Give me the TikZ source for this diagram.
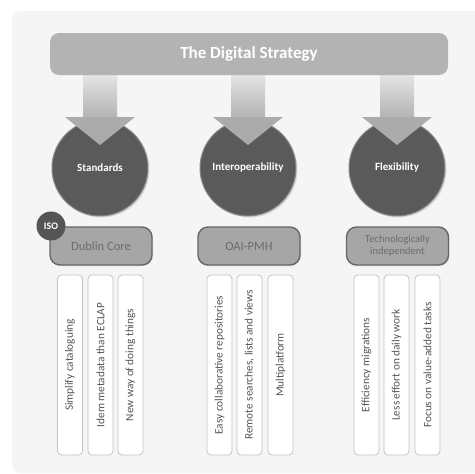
\documentclass[tikz,border=0pt]{standalone}
\usepackage{fontspec}
\setmainfont{Carlito}
\usetikzlibrary{shadows}
\definecolor{panel}{HTML}{F5F5F5}
\definecolor{bar}{HTML}{B3B3B3}
\definecolor{disc}{HTML}{5A5A5A}
\definecolor{boxfill}{HTML}{A6A6A6}
\definecolor{boxline}{HTML}{666666}
\definecolor{boxtext}{HTML}{6C6C6C}
\definecolor{itemline}{HTML}{C4C4C4}
\definecolor{itemtext}{HTML}{555555}
\definecolor{arrowhead}{HTML}{ABABAB}
\tikzset{
  titlebar/.style={fill=bar, rounded corners=9pt, minimum width=398pt, minimum height=42pt, text=white, font=\fontsize{17}{19}\selectfont\bfseries, inner sep=0pt},
  pillar/.style={circle, fill=disc, draw=disc!70!white, line width=1pt, minimum size=96pt, inner sep=0pt, text=white, font=\fontsize{11}{13}\selectfont\bfseries, drop shadow={opacity=0.25, shadow xshift=1.5pt, shadow yshift=-1.5pt}},
  stdbox/.style={rounded corners=10pt, fill=boxfill, draw=boxline, line width=1.4pt, minimum width=102pt, minimum height=38pt, text=boxtext, inner sep=0pt, align=center, drop shadow={opacity=0.2, shadow xshift=1pt, shadow yshift=-1pt}},
  isobadge/.style={circle, fill=disc!95!black, minimum size=29pt, inner sep=0pt, text=white, font=\fontsize{10}{12}\selectfont\bfseries},
  itembox/.style={rotate=90, rounded corners=4pt, fill=white, draw=itemline, line width=0.8pt, minimum width=180pt, minimum height=25pt, inner sep=0pt, text=itemtext, font=\fontsize{11.3}{13}\selectfont},
}
\begin{document}
\begin{tikzpicture}[x=1pt,y=-1pt]
\useasboundingbox (0,0) rectangle (475,474);
\fill[white] (0,0) rectangle (475,474);
\fill[panel, rounded corners=8pt] (12,11) rectangle (490,473);
% pillars
\foreach \cx/\nm/\lab in {100/std/Standards, 248/inter/Interoperability, 397/flex/Flexibility}{
  \node[pillar] (\nm) at (\cx,168) {\lab};
}
% arrows
\foreach \cx in {100,248,397}{
  \shade[top color=black!10, bottom color=black!30] (\cx-17,74) rectangle (\cx+17,118);
  \fill[arrowhead] (\cx-35,117) -- (\cx+35,117) -- (\cx,145) -- cycle;
}
\node[titlebar] (title) at (249,54) {The Digital Strategy};
% second level
\node[stdbox, font=\fontsize{12.5}{14}\selectfont] (dc) at (101,246) {Dublin Core};
\node[stdbox, font=\fontsize{12.5}{14}\selectfont] (oai) at (249,246) {OAI-PMH};
\node[stdbox, font=\fontsize{10.5}{12}\selectfont] (tech) at (397.5,246) {Technologically\\independent};
\node[isobadge] (iso) at (51,226) {ISO};
% items
\node[itembox] (i1) at (70,365) {Simplify cataloguing};
\node[itembox] (i2) at (100.5,365) {Idem metadata than ECLAP};
\node[itembox] (i3) at (130.5,365) {New way of doing things};
\node[itembox] (i4) at (219.5,365) {Easy collaborative repositories};
\node[itembox] (i5) at (249.5,365) {Remote searches, lists and views};
\node[itembox] (i6) at (280.5,365) {Multiplatform};
\node[itembox] (i7) at (366.5,365) {Efficiency migrations};
\node[itembox] (i8) at (396.5,365) {Less effort on daily work};
\node[itembox] (i9) at (427.5,365) {Focus on value-added tasks};
\end{tikzpicture}
\end{document}
